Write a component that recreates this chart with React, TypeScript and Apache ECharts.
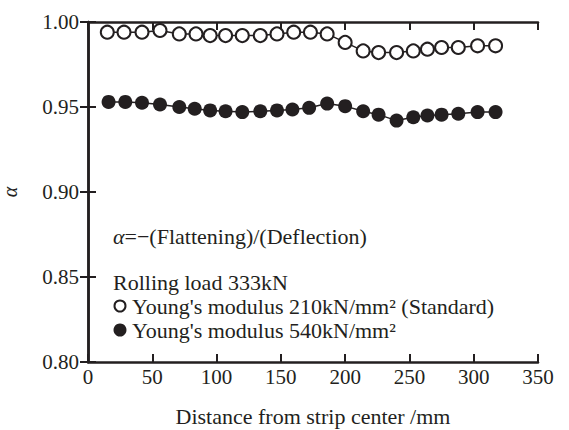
import React, { useEffect, useRef } from "react";
import * as echarts from "echarts";

const xStandard = [15, 28, 42, 56, 71, 84, 95, 107, 120, 134, 147, 160, 173, 186, 200, 214, 226, 240, 253, 264, 275, 288, 303, 317];
const yStandard = [0.994, 0.994, 0.994, 0.995, 0.993, 0.993, 0.992, 0.992, 0.992, 0.992, 0.993, 0.994, 0.994, 0.993, 0.988, 0.983, 0.982, 0.982, 0.983, 0.984, 0.985, 0.985, 0.986, 0.986];
const x540 = [16, 29, 42, 56, 71, 83, 95, 107, 120, 134, 147, 159, 172, 186, 200, 214, 226, 240, 253, 264, 275, 288, 303, 317];
const y540 = [0.953, 0.953, 0.9525, 0.9515, 0.95, 0.949, 0.948, 0.9475, 0.947, 0.9475, 0.948, 0.9485, 0.9495, 0.952, 0.9505, 0.9475, 0.9455, 0.942, 0.944, 0.945, 0.9455, 0.946, 0.947, 0.947];

const xTitle = "Distance from strip center /mm";
const yTitle = "α";
const noteLine = "=−(Flattening)/(Deflection)";
const loadLine = "Rolling load 333kN";
const legendStandard = "Young's modulus 210kN/mm² (Standard)";
const legend540 = "Young's modulus 540kN/mm²";

const INK = "#231f20";
const FONT = "Liberation Serif, Times New Roman, serif";

export default function App() {
  const ref = useRef<HTMLDivElement>(null);
  useEffect(() => {
    if (!ref.current) return;
    const chart = echarts.init(ref.current, undefined, { renderer: "svg" });
    const axisCommon = {
      axisLine: { show: true, lineStyle: { color: INK, width: 2.5 } },
      axisTick: { show: true, inside: true, length: 8, lineStyle: { color: INK, width: 2 } },
      splitLine: { show: false },
    };
    const txt = (x: number, y: number, text: string, extra: any = {}) => ({
      type: "text", x, y,
      style: { text, fontSize: 22, fontFamily: FONT, fill: INK, verticalAlign: "middle", textVerticalAlign: "middle", ...extra },
    });
    chart.setOption({
      animation: false,
      backgroundColor: "#fff",
      textStyle: { fontFamily: FONT, color: INK },
      grid: { left: 88, right: 31, top: 22, bottom: 68, containLabel: false, outerBoundsMode: "none" },
      xAxis: [
        {
          type: "value", min: 0, max: 350, interval: 50, position: "bottom",
          ...axisCommon,
          axisLabel: { fontSize: 21, fontFamily: FONT, color: INK, margin: 4 },
          name: xTitle, nameLocation: "middle", nameGap: 43,
          nameTextStyle: { fontSize: 22, fontFamily: FONT, color: INK },
        },
        {
          type: "value", min: 0, max: 350, interval: 50, position: "top",
          ...axisCommon, axisLabel: { show: false },
        },
      ],
      yAxis: [
        {
          type: "value", min: 0.8, max: 1.0, interval: 0.05, position: "left",
          ...axisCommon,
          axisLabel: { fontSize: 21, fontFamily: FONT, color: INK, margin: 9, formatter: (v: number) => v.toFixed(2) },
          name: yTitle, nameLocation: "middle", nameGap: 68,
          nameTextStyle: { fontSize: 20, fontFamily: FONT, fontStyle: "italic", color: INK },
        },
        {
          type: "value", min: 0.8, max: 1.0, interval: 0.05, position: "right",
          ...axisCommon, axisLabel: { show: false },
        },
      ],
      series: [
        {
          type: "line",
          data: xStandard.map((x, i) => [x, yStandard[i]]),
          symbol: "circle", symbolSize: 13,
          lineStyle: { color: INK, width: 1.5 },
          itemStyle: { color: "#fff", borderColor: INK, borderWidth: 2 },
          z: 3,
        },
        {
          type: "line",
          data: x540.map((x, i) => [x, y540[i]]),
          symbol: "circle", symbolSize: 14,
          lineStyle: { color: INK, width: 1.5 },
          itemStyle: { color: INK, borderColor: INK, borderWidth: 0 },
          z: 3,
        },
      ],
      graphic: [
        txt(113, 236, "{i|α}" + noteLine, {
          rich: { i: { fontStyle: "italic", fontSize: 22, fontFamily: FONT, fill: INK } },
        }),
        txt(113, 282, loadLine),
        { type: "circle", shape: { cx: 120, cy: 306, r: 5.5 }, style: { fill: "#fff", stroke: INK, lineWidth: 2 } },
        txt(132, 306, legendStandard),
        { type: "circle", shape: { cx: 120, cy: 330, r: 6.5 }, style: { fill: INK } },
        txt(132, 330, legend540),
      ],
    });
    return () => chart.dispose();
  }, []);
  return <div ref={ref} style={{ width: 569, height: 430, position: "absolute", left: 0, top: 0 }} />;
}
